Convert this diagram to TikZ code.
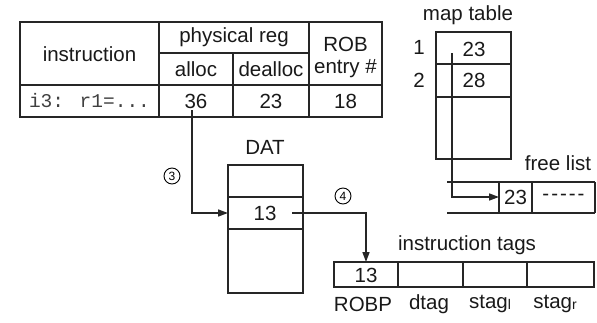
\documentclass[tikz,border=0pt]{standalone}
\usepackage{fontspec}
\setmainfont{Liberation Sans}
\newfontfamily\monof{Liberation Mono}
\usetikzlibrary{arrows.meta}
\begin{document}
\begin{tikzpicture}[x=1pt,y=-1pt,
  txt/.style={inner sep=0pt, font=\fontsize{20.5}{24}\selectfont, text=black!90},
  mono/.style={inner sep=0pt, font=\monof\fontsize{19.5}{24}\selectfont, text=black!75},
  circ/.style={circle, draw, line width=0.9pt, minimum size=16pt, inner sep=0pt, font=\fontsize{12}{13}\selectfont},
  frame/.style={line width=1.9pt, draw=black!85},
  inner/.style={line width=1.5pt, draw=black!85},
  conn/.style={line width=1.6pt, draw=black!85, -{Triangle[length=10pt,width=7pt]}},
  plain/.style={line width=1.6pt, draw=black!85}
]
\useasboundingbox (0,0) rectangle (597,322);

% ---------- main table ----------
\draw[frame] (20,22) rectangle (382,117);
\draw[frame] (159,22) -- (159,117);
\draw[inner] (309,22) -- (309,117);
\draw[frame] (233,53) -- (233,117);
\draw[inner] (159,53) -- (309,53);
\draw[frame] (20,85) -- (382,85);
\node[txt] (hinstr) at (89.5,54) {instruction};
\node[txt] (hphys) at (234,37.5) {physical reg};
\node[txt] (halloc) at (196,69.5) {alloc};
\node[txt] (hdealloc) at (271,69.5) {dealloc};
\node[txt] (hrob) at (345.5,44.5) {ROB};
\node[txt] (hentry) at (345.5,69) {entry \#};
\node[mono] (vinstr) at (89.5,101) {i3: r1=...};
\node[txt] (valloc) at (196,101) {36};
\node[txt] (vdealloc) at (271,101) {23};
\node[txt] (vrob) at (345.5,101) {18};

% ---------- map table ----------
\node[txt] (mtlabel) at (468,15) {map table};
\draw[frame] (436,32) rectangle (511,159);
\draw[frame] (436,64) -- (511,64);
\draw[frame] (436,97) -- (511,97);
\node[txt] (mi1) at (419,47) {1};
\node[txt] (mi2) at (419,80) {2};
\node[txt] (mv1) at (474,49) {23};
\node[txt] (mv2) at (474,80) {28};
\coordinate (mtsrc) at (452,53);

% ---------- free list ----------
\node[txt] (fllabel) at (558,163) {free list};
\draw[inner] (447,182) -- (595,182);
\draw[inner] (447,213) -- (595,213);
\draw[inner] (499,182) -- (499,213);
\draw[frame] (532,182) -- (532,213);
\draw[inner] (595,182) -- (595,213);
\node[txt] (fl1) at (515.5,197.5) {23};
\node[txt] (fl2) at (563.5,197.5) {-\kern2pt-\kern2pt-\kern2pt-\kern2pt-};
\coordinate (flin) at (499,197);

\draw[conn] (mtsrc) |- (flin);

% ---------- DAT ----------
\node[txt] (datlabel) at (265,147) {DAT};
\draw[frame] (228,165) rectangle (303,293);
\draw[inner] (228,197) -- (303,197);
\draw[inner] (228,229) -- (303,229);
\draw[line width=2.6pt, draw=black!85] (228,197) -- (228,229);
\node[txt] (dat13) at (265,213) {13};
\coordinate (datin) at (228,213);
\coordinate (allocsrc) at (192,110);
\coordinate (datout) at (292,213);

\draw[conn] (allocsrc) |- (datin);
\node[circ] (c3) at (172,176) {3};

% ---------- instruction tags ----------
\node[txt] (itlabel) at (467,245) {instruction tags};
\draw[frame] (334,262) rectangle (594,287);
\draw[frame] (398,262) -- (398,287);
\draw[frame] (463,262) -- (463,287);
\draw[frame] (527,262) -- (527,287);
\node[txt] (it13) at (366,275) {13};
\coordinate (itin) at (366,262);
\node[txt] (lrobp) at (363,304) {ROBP};
\node[txt] (ldtag) at (429,304) {dtag};
\node[txt] (lstagl) at (490,304) {stag\raisebox{-1pt}{\fontsize{14}{14}\selectfont l}};
\node[txt] (lstagr) at (555,304) {stag\raisebox{-1pt}{\fontsize{14}{14}\selectfont r}};

\draw[conn] (datout) -| (itin);
\node[circ] (c4) at (343,196) {4};
\end{tikzpicture}
\end{document}
